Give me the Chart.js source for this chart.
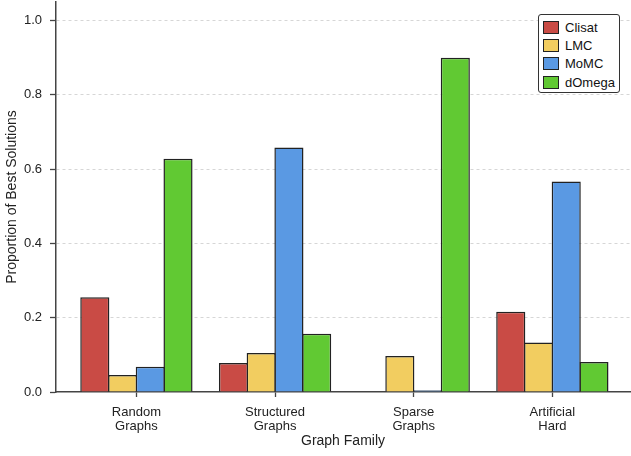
<!DOCTYPE html>
<html>
<head>
<meta charset="utf-8">
<script src="https://cdn.jsdelivr.net/npm/chart.js@4.4.1/dist/chart.umd.min.js"></script>
<style>
    body { margin: 0; background: #fff; }
    #wrap { position: relative; width: 631px; height: 456px; }
    #legend {
        position: absolute; left: 538px; top: 14px; width: 82px; height: 79px;
        border: 1px solid #333; border-radius: 3px; background: #fff;
        font: 13px "Liberation Sans", Arial, sans-serif; color: #111;
        box-sizing: border-box; padding: 3px 0 0 4px;
    }
    #legend div { height: 18.3px; display: flex; align-items: center; }
    #legend span.sw { width: 16px; height: 13px; border: 1px solid #222; box-sizing: border-box; margin-right: 6px; }
</style>
</head>
<body>
<div id="wrap">
    <canvas id="myChart" width="631" height="456"></canvas>
    <div id="legend"></div>
</div>
<script>
const categories = [["Random", "Graphs"], ["Structured", "Graphs"], ["Sparse", "Graphs"], ["Artificial", "Hard"]];
const seriesNames = ["Clisat", "LMC", "MoMC", "dOmega"];
const clisat = [0.255, 0.078, 0, 0.216];
const lmc = [0.046, 0.105, 0.097, 0.133];
const momc = [0.068, 0.658, 0.005, 0.567];
const domega = [0.628, 0.157, 0.900, 0.081];
const yTicks = [0, 0.2, 0.4, 0.6, 0.8, 1.0];
const colors = ['#c94b45', '#f2cd60', '#5a99e3', '#61c933'];

const font = '"Liberation Sans", Arial, sans-serif';

function points(vals) {
    return vals.map((v, i) => ({ x: i, y: v }));
}

const ctx = document.getElementById('myChart').getContext('2d');

new Chart(ctx, {
    type: 'bar',
    data: {
        datasets: [clisat, lmc, momc, domega].map((vals, i) => ({
            label: seriesNames[i],
            data: points(vals),
            backgroundColor: colors[i],
            borderColor: '#222',
            borderWidth: 1.5,
            categoryPercentage: 0.8,
            barPercentage: 1.05
        }))
    },
    options: {
        responsive: false,
        animation: false,
        layout: { padding: { top: 2, right: 1, left: 0, bottom: 0 } },
        scales: {
            x: {
                type: 'linear',
                min: -0.58,
                max: 3.56,
                offset: false,
                afterBuildTicks: s => { s.ticks = categories.map((c, i) => ({ value: i })); },
                afterFit: s => { s.height = 64; s.paddingLeft = 0; s.paddingRight = 0; },
                grid: { offset: false, drawOnChartArea: false, tickLength: 5, tickColor: '#444', tickWidth: 1.3 },
                border: { color: '#444', width: 1.5 },
                ticks: {
                    callback: v => categories[v],
                    color: '#222',
                    padding: 9,
                    maxRotation: 0,
                    autoSkip: false,
                    font: { family: font, size: 13, lineHeight: 1.05 }
                },
                title: {
                    display: true,
                    text: 'Graph Family',
                    color: '#222',
                    padding: { top: 4, bottom: 6 },
                    font: { family: font, size: 14 }
                }
            },
            y: {
                min: 0,
                max: 1.05,
                afterBuildTicks: s => { s.ticks = yTicks.map(v => ({ value: v })); },
                afterFit: s => { s.width = 56; s.paddingTop = 0; s.paddingBottom = 0; },
                grid: {
                    color: c => c.tick && c.tick.value === 0 ? 'rgba(0,0,0,0)' : '#cccccc',
                    lineWidth: 0.8,
                    tickLength: 6,
                    tickColor: '#444',
                    tickWidth: 1.3
                },
                border: { color: '#444', width: 1.5, dash: [3, 3] },
                ticks: {
                    callback: v => v.toFixed(1),
                    color: '#222',
                    padding: 8,
                    font: { family: font, size: 13 }
                },
                title: {
                    display: true,
                    text: 'Proportion of Best Solutions',
                    color: '#222',
                    padding: { top: 4, bottom: 4 },
                    font: { family: font, size: 14 }
                }
            }
        },
        plugins: {
            legend: { display: false },
            tooltip: { enabled: false }
        }
    }
});

// legend inside the plot, upper right
const legendEl = document.getElementById('legend');
seriesNames.forEach((name, i) => {
    const row = document.createElement('div');
    const sw = document.createElement('span');
    sw.className = 'sw';
    sw.style.background = colors[i];
    row.appendChild(sw);
    row.appendChild(document.createTextNode(name));
    legendEl.appendChild(row);
});
</script>
</body>
</html>
